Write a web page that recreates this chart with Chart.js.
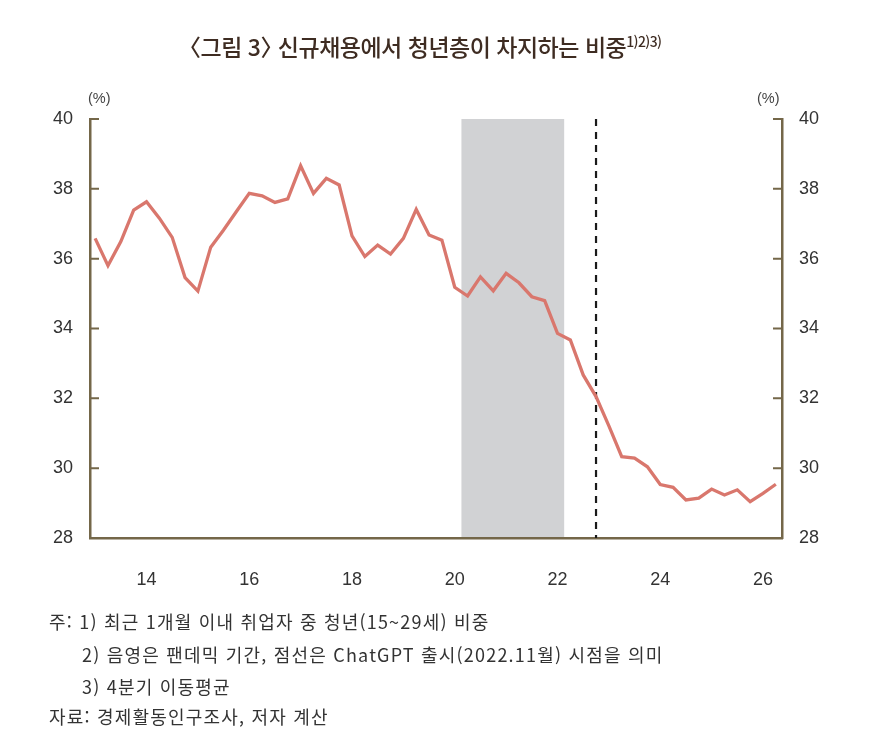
<!DOCTYPE html>
<html lang="ko">
<head>
<meta charset="utf-8">
<script src="https://cdn.jsdelivr.net/npm/chart.js@4/dist/chart.umd.min.js"></script>
<style>
  body { margin: 0; background: #fff; }
  #wrap { position: relative; width: 878px; height: 748px; overflow: hidden; }
  #c { position: absolute; left: 0; top: 0; }
  .txt { position: absolute; font-family: "Noto Sans CJK KR", "Noto Sans", sans-serif; white-space: nowrap; }
  .title { left: 187px; top: 30px; line-height: 32px; font-size: 23px; font-weight: 500; color: #3e2c22; letter-spacing: -0.5px; }
  .title .lb { margin-left: -9px; }
  .title .rb { margin-right: -11px; }
  .title sup { font-size: 14px; letter-spacing: -0.6px; vertical-align: 9px; line-height: 0; }
  .unit { top: 90px; font-size: 14.5px; color: #444; font-family: "Liberation Sans", sans-serif; }
  .note { left: 49px; font-size: 18px; color: #333; letter-spacing: 1.2px; line-height: 30px; }
</style>
</head>
<body>
<div id="wrap">
  <canvas id="c" width="878" height="748"></canvas>
  <div class="txt title"><span class="lb">〈</span>그림 3<span class="rb">〉</span> 신규채용에서 청년층이 차지하는 비중<sup>1)2)3)</sup></div>
  <div class="txt unit" style="left:88px">(%)</div>
  <div class="txt unit" style="left:757px">(%)</div>
  <div class="txt note" style="top:606px">주: 1) 최근 1개월 이내 취업자 중 청년(15~29세) 비중</div>
  <div class="txt note" style="top:639px;left:82px">2) 음영은 팬데믹 기간, 점선은 ChatGPT 출시(2022.11월) 시점을 의미</div>
  <div class="txt note" style="top:671px;left:82px">3) 4분기 이동평균</div>
  <div class="txt note" style="top:701px">자료: 경제활동인구조사, 저자 계산</div>
</div>
<script>
// quarterly share of youth in new hires (%), 2013Q1 .. 2026Q2
const startYear = 13;
const youthShare = [
  36.58, 35.80, 36.49, 37.39,
  37.63, 37.16, 36.61, 35.46,
  35.07, 36.33, 36.82, 37.35,
  37.87, 37.80, 37.61, 37.71,
  38.66, 37.87, 38.30, 38.11,
  36.65, 36.06, 36.39, 36.13,
  36.58, 37.41, 36.68, 36.53,
  35.18, 34.93, 35.48, 35.08,
  35.58, 35.31, 34.91, 34.80,
  33.86, 33.67, 32.67, 32.05,
  31.21, 30.33, 30.29, 30.04,
  29.53, 29.45, 29.09, 29.14,
  29.40, 29.23, 29.38, 29.04,
  29.28, 29.54
];
const xTicks = [14, 16, 18, 20, 22, 24, 26];
const yTicks = [28, 30, 32, 34, 36, 38, 40];
const pandemic = [20.13, 22.13];
const chatgptLaunch = 22.75;

const axisColor = '#746749';
const labelFont = { family: 'Liberation Sans, Arial, sans-serif', size: 18 };

const points = youthShare.map((v, i) => ({ x: startYear + i / 4, y: v }));

const overlay = {
  id: 'overlay',
  beforeDraw(chart) {
    const { ctx, scales: { x, y } } = chart;
    const x0 = x.getPixelForValue(pandemic[0]);
    const x1 = x.getPixelForValue(pandemic[1]);
    const top = y.getPixelForValue(40);
    const bottom = y.getPixelForValue(28);
    ctx.save();
    ctx.fillStyle = '#d1d2d4';
    ctx.fillRect(x0, top, x1 - x0, bottom - top);
    ctx.restore();
  },
  beforeDatasetsDraw(chart) {
    const { ctx, scales: { x, y, y2 } } = chart;
    const px = x.getPixelForValue(chatgptLaunch);
    ctx.save();
    ctx.strokeStyle = '#1a1a1a';
    ctx.lineWidth = 2.2;
    ctx.setLineDash([7, 6]);
    ctx.beginPath();
    ctx.moveTo(px, y.getPixelForValue(40));
    ctx.lineTo(px, y.getPixelForValue(28));
    ctx.stroke();
    ctx.setLineDash([]);
    // inward tick marks on both value axes
    ctx.strokeStyle = axisColor;
    ctx.lineWidth = 2;
    const l = x.left, r = x.right;
    yTicks.forEach(v => {
      const py = y.getPixelForValue(v);
      const py2 = y2.getPixelForValue(v);
      ctx.beginPath();
      ctx.moveTo(l, py); ctx.lineTo(l + 9, py);
      ctx.moveTo(r - 9, py2); ctx.lineTo(r, py2);
      ctx.stroke();
    });
    ctx.restore();
  }
};

const valueAxis = (pos) => ({
  type: 'linear',
  position: pos,
  min: 28,
  max: 40,
  afterBuildTicks: s => { s.ticks = yTicks.map(v => ({ value: v })); },
  afterFit: s => { s.width = pos === 'left' ? 90 : 96; },
  grid: { display: false, drawTicks: false },
  border: { display: true, color: axisColor, width: 2.5 },
  ticks: { color: '#333', font: labelFont, padding: 17 }
});

new Chart(document.getElementById('c'), {
  type: 'line',
  data: {
    datasets: [{
      data: points,
      borderColor: '#d9776d',
      borderWidth: 3.3,
      pointRadius: 0,
      tension: 0
    }]
  },
  options: {
    responsive: false,
    animation: false,
    devicePixelRatio: 1,
    layout: { padding: { top: 119, left: 0, right: 0, bottom: 0 } },
    plugins: { legend: { display: false }, tooltip: { enabled: false } },
    scales: {
      x: {
        type: 'linear',
        min: 12.9,
        max: 26.37,
        afterBuildTicks: s => { s.ticks = xTicks.map(v => ({ value: v })); },
        afterFit: s => { s.height = 210; },
        grid: { display: false, drawTicks: false },
        border: { display: true, color: axisColor, width: 2.5 },
        ticks: { color: '#333', font: labelFont, padding: 31, maxRotation: 0 }
      },
      y: valueAxis('left'),
      y2: valueAxis('right')
    }
  },
  plugins: [overlay]
});
</script>
</body>
</html>
